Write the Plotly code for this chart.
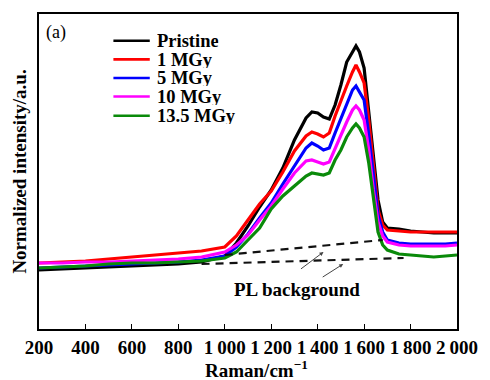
import plotly.graph_objects as go

# Raman shift (cm^-1)
raman = [200, 300, 400, 500, 600, 700, 800, 900, 1000, 1050, 1100, 1150, 1200, 1250,
         1300, 1350, 1375, 1400, 1425, 1450, 1475, 1500, 1525, 1550, 1565, 1580, 1600,
         1620, 1640, 1660, 1680, 1700, 1750, 1800, 1850, 1900, 1950, 2000]

# Normalized intensity (a.u.)
pristine = [59, 60, 61, 62, 63, 64, 65, 67, 73, 86, 103, 122, 139, 161,
            189, 211, 217, 216, 212, 210, 224, 244, 267, 277, 283, 277, 261,
            217, 172, 129, 107, 101, 100, 98, 97, 96, 96, 96]
mgy_1 = [66, 67, 68, 70, 72, 74, 76, 78, 82, 93, 109, 125, 138, 157,
         178, 193, 197, 195, 192, 196, 213, 229, 243, 257, 264, 257, 246,
         209, 161, 119, 104, 99, 98, 97, 97, 97, 97, 97]
mgy_5 = [61, 62, 63, 64, 65, 66, 67, 69, 73, 82, 95, 111, 126, 145,
         163, 181, 186, 183, 179, 181, 196, 211, 226, 239, 243, 237, 229,
         194, 151, 114, 97, 89, 86, 85, 85, 85, 85, 86]
mgy_10 = [66, 66, 67, 67, 68, 69, 70, 72, 77, 84, 94, 109, 123, 140,
          156, 168, 169, 167, 165, 167, 181, 193, 207, 219, 223, 219, 209,
          179, 139, 107, 93, 87, 84, 83, 83, 83, 83, 84]
mgy_13_5 = [61, 62, 63, 65, 66, 66, 67, 68, 71, 77, 89, 101, 120, 133,
            143, 153, 156, 155, 154, 156, 169, 179, 192, 201, 205, 201, 192,
            166, 129, 97, 84, 79, 75, 74, 73, 72, 73, 74]

series_names = ["Pristine", "1 MGy", "5 MGy", "10 MGy", "13.5 MGy"]
series_values = [pristine, mgy_1, mgy_5, mgy_10, mgy_13_5]
series_colors = ["#000000", "#ff0000", "#0000ff", "#ff00ff", "#0a8a0a"]

# PL background guide lines
pl_upper_x = [1000, 1680]
pl_upper_y = [74, 89]
pl_lower_x = [900, 1770]
pl_lower_y = [65, 71]

tick_vals = [200, 400, 600, 800, 1000, 1200, 1400, 1600, 1800, 2000]
tick_text = ["200", "400", "600", "800", "1\u2009000", "1\u2009200", "1\u2009400",
             "1\u2009600", "1\u2009800", "2\u2009000"]

FONT = "Liberation Serif, Times New Roman, serif"
BOLD = dict(family=FONT, size=19, color="black", weight="bold")

fig = go.Figure()
for name, vals, col in zip(series_names, series_values, series_colors):
    fig.add_trace(go.Scatter(x=raman, y=vals, mode="lines", name=name,
                             line=dict(color=col, width=3.2), showlegend=False))

for xs, ys in [(pl_upper_x, pl_upper_y), (pl_lower_x, pl_lower_y)]:
    fig.add_trace(go.Scatter(x=xs, y=ys, mode="lines", showlegend=False,
                             line=dict(color="#111111", width=2.2, dash="8px,6px")))

annotations = []
# manual legend (compact rows as in the reference)
row_y = [0.915, 0.856, 0.797, 0.738, 0.677]
for name, col, ry in zip(series_names, series_colors, row_y):
    annotations.append(dict(xref="paper", yref="paper", x=0.278, y=ry, text=name,
                            showarrow=False, xanchor="left", yanchor="middle", height=17,
                            font=dict(family=FONT, size=18.5, color="black", weight="bold")))
shapes = []
for col, ry in zip(series_colors, row_y):
    shapes.append(dict(type="line", xref="paper", yref="paper", x0=0.178, x1=0.265,
                       y0=ry, y1=ry, line=dict(color=col, width=2.6)))

annotations.append(dict(xref="paper", yref="paper", x=0.04, y=0.94, text="(a)", showarrow=False,
                        xanchor="center", yanchor="middle",
                        font=dict(family=FONT, size=18, color="black")))
annotations.append(dict(xref="x", yref="y", x=1311, y=40, text="PL background",
                        showarrow=False, font=BOLD))
annotations.append(dict(xref="x", yref="y", x=1425, y=77, ax=-24, ay=18, text="",
                        showarrow=True, arrowhead=2, arrowsize=0.8, arrowwidth=1,
                        arrowcolor="#444444"))
annotations.append(dict(xref="x", yref="y", x=1510, y=65, ax=-22, ay=14, text="",
                        showarrow=True, arrowhead=2, arrowsize=0.8, arrowwidth=1,
                        arrowcolor="#444444"))
annotations.append(dict(xref="paper", yref="paper", x=0.52, y=-0.127, height=20,
                        text="Raman/cm<sup>\u22121</sup>", showarrow=False,
                        xanchor="center", yanchor="middle", font=BOLD))

fig.update_layout(
    width=490, height=380,
    margin=dict(l=39, r=25, t=14, b=51),
    paper_bgcolor="white", plot_bgcolor="white",
    showlegend=False,
    annotations=annotations, shapes=shapes,
    font=dict(family=FONT, size=19, color="black"),
)
fig.update_xaxes(range=[200, 2000], tickvals=tick_vals, ticktext=tick_text,
                 ticks="inside", ticklen=5, tickwidth=1.2, tickcolor="black",
                 showline=True, linecolor="black", linewidth=1.5, mirror=True,
                 showgrid=False, zeroline=False, tickfont=BOLD)
fig.update_yaxes(range=[0, 315], showticklabels=False, ticks="",
                 showline=True, linecolor="black", linewidth=1.5, mirror=True,
                 showgrid=False, zeroline=False,
                 title=dict(text="Normalized intensity/a.u.", standoff=6, font=BOLD))

fig.write_html("out.html")
